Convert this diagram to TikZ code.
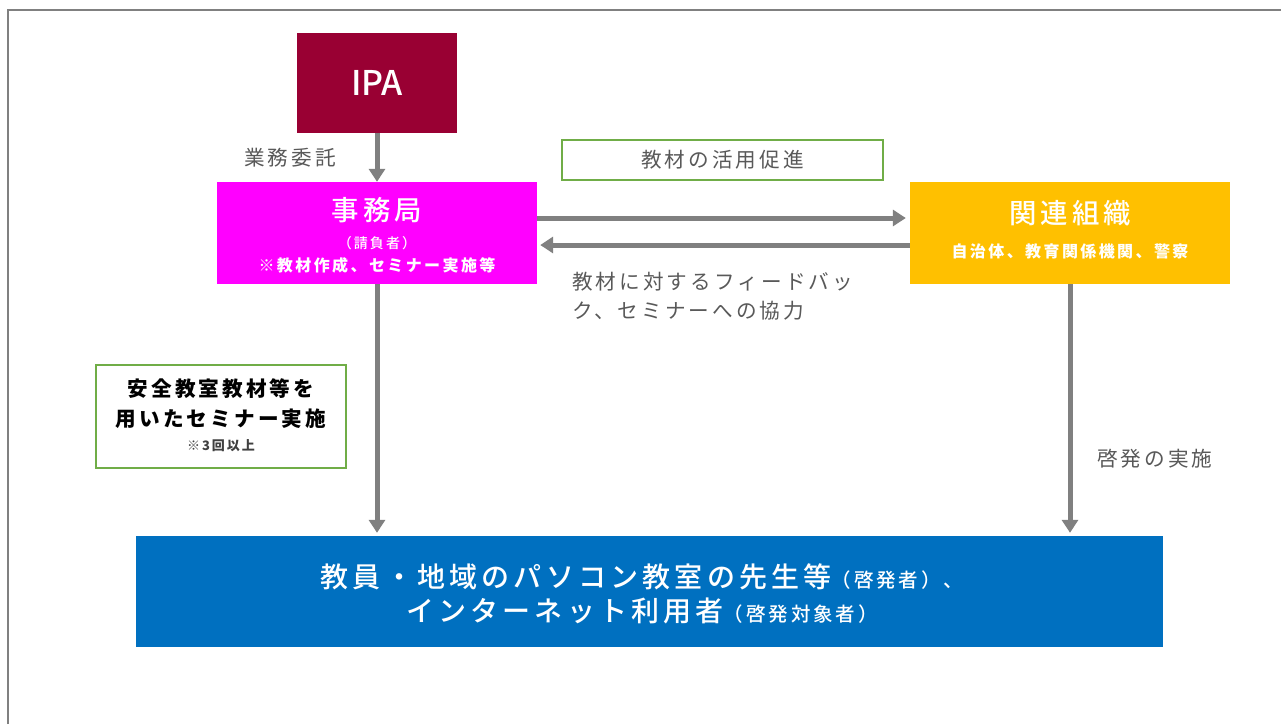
\documentclass[tikz,border=0pt]{standalone}
\usepackage{fontspec}
\setmainfont{Noto Sans CJK JP}
\newfontfamily\jps[LetterSpace=15]{Noto Sans CJK JP}
\newfontfamily\jpm[LetterSpace=15]{Noto Sans CJK JP Medium}
\newfontfamily\jpmn{Noto Sans CJK JP Medium}
\usetikzlibrary{arrows.meta,calc}
\definecolor{ipared}{HTML}{990033}
\definecolor{magent}{HTML}{FF00FF}
\definecolor{orng}{HTML}{FFC000}
\definecolor{blu}{HTML}{0070C0}
\definecolor{grn}{HTML}{70AD47}
\definecolor{arrgray}{HTML}{808080}
\definecolor{txtgray}{HTML}{595959}
\newcommand{\fs}[1]{\fontsize{#1}{#1}\selectfont}
\tikzset{
  box/.style={rectangle, inner sep=0pt, draw=none},
  gbox/.style={rectangle, inner sep=0pt, draw=grn, line width=2pt, fill=white},
  conn/.style={draw=arrgray, line width=5pt, -{Triangle[width=16pt,length=13pt]}},
  lbl/.style={inner sep=0pt, text=txtgray, font=\jps\fs{20.6}},
  wt/.style={inner sep=0pt, text=white},
}
\begin{document}
\begin{tikzpicture}[x=1pt,y=-1pt]
\useasboundingbox (0,0) rectangle (1281,724);
\fill[white] (0,0) rectangle (1281,724);
\coordinate (fa) at (8,724);
\coordinate (fb) at (8,10);
\coordinate (fc) at (1281,10);
\draw[arrgray, line width=2.5pt] (fa) -- (fb) -- (fc);

% boxes
\node[box, fill=ipared, minimum width=160pt, minimum height=100pt] (ipa) at (377,83) {};
\node[wt, font=\jpmn\fs{34}] (ipat) at (377,83) {IPA};

\node[box, fill=magent, minimum width=320pt, minimum height=102pt] (jim) at (377,233) {};
\node[wt, font=\jpm\fs{27.4}] (jimt) at (377,210) {事務局};
\node[wt, font=\jpm\fs{14}] (jims) at (377,243) {（請負者）};
\node[wt, font=\jps\bfseries\fs{16}] (jimn) at (377,265) {※教材作成、セミナー実施等};

\node[box, fill=orng, minimum width=320pt, minimum height=102pt] (kan) at (1070,233) {};
\node[wt, font=\jpm\fs{27.4}] (kant) at (1070,213) {関連組織};
\node[wt, font=\jps\bfseries\fs{16}] (kans) at (1070,251) {自治体、教育関係機関、警察};

\node[gbox, minimum width=321pt, minimum height=40pt] (kk) at (722.5,160) {};
\node[lbl] (kkt) at (722.5,160) {教材の活用促進};

\node[gbox, minimum width=250pt, minimum height=103pt] (sem) at (221,416.5) {};
\node[inner sep=0pt, font=\jps\bfseries\fs{20.6}] (sem1) at (221,389) {安全教室教材等を};
\node[inner sep=0pt, font=\jps\bfseries\fs{20.6}] (sem2) at (221,419) {用いたセミナー実施};
\node[inner sep=0pt, font=\jps\bfseries\fs{13}, text=black!75] (sem3) at (221,446) {※3回以上};

\node[box, fill=blu, minimum width=1027pt, minimum height=111pt] (blue) at (649.5,591.5) {};
\node[wt, font=\jpm\fs{28}] (bl1) at (642,577) {教員・地域のパソコン教室の先生等{\fs{19.5}（啓発者）、}};
\node[wt, font=\jpm\fs{28}] (bl2) at (642,611) {インターネット利用者{\fs{19.5}（啓発対象者）}};

% labels
\node[lbl, anchor=east] (gyo) at (336,158) {業務委託};
\node[lbl, anchor=west] (fb1) at (572,282) {教材に対するフィードバッ};
\node[lbl, anchor=west] (fb2) at (572,311) {ク、セミナーへの協力};
\node[lbl, anchor=west] (kei) at (1097,459) {啓発の実施};

% connectors
\draw[conn] (ipa.south) -- (jim.north);
\draw[conn, shorten >=4pt] ($(jim.east)+(0,-15)$) -- ($(kan.west)+(0,-15)$);
\draw[conn, shorten >=3pt] ($(kan.west)+(0,12)$) -- ($(jim.east)+(0,12)$);
\draw[conn, shorten >=3pt] (jim.south) -- (jim.south |- blue.north);
\draw[conn, shorten >=3pt] (kan.south) -- (kan.south |- blue.north);
\end{tikzpicture}
\end{document}
